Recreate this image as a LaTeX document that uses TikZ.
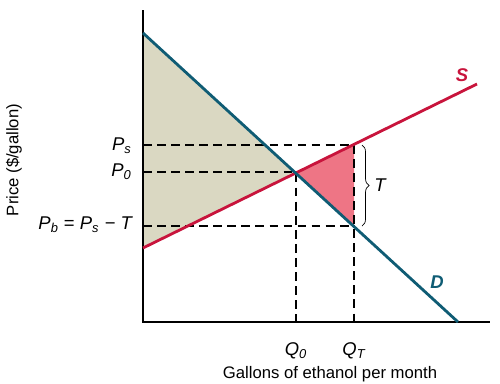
\documentclass[tikz,border=0pt]{standalone}
\usepackage{fontspec}
\setmainfont{Liberation Sans}
\usetikzlibrary{decorations.pathreplacing}
\definecolor{supred}{HTML}{C8143C}
\definecolor{demteal}{HTML}{0F5C74}
\definecolor{beige}{HTML}{DAD8C2}
\definecolor{dwlpink}{HTML}{EE7585}
\newcommand{\sublbl}[2]{{\itshape #1}\textsubscript{\itshape #2}}

\begin{document}
\begin{tikzpicture}[x=.02cm,y=-.02cm,font=\fontsize{10.5}{12}\selectfont]
  \useasboundingbox (0,0) rectangle (500,383);
  % points
  \coordinate (dtop) at (143,33);
  \coordinate (dend) at (458,322);
  \coordinate (sbot) at (143,248);
  \coordinate (send) at (477,84);
  \coordinate (eq) at (296,172);
  \coordinate (sT) at (354,145);
  \coordinate (dT) at (354,226);
  \coordinate (orig) at (143,322);
  \coordinate (ytop) at (143,10);
  \coordinate (xend) at (490,322);
  % shaded areas
  \fill[beige] (dtop) -- (eq) -- (sbot) -- cycle;
  \fill[dwlpink] (eq) -- (sT) -- (dT) -- cycle;
  % dashed guides
  \draw[line width=.8pt,dash pattern=on 5pt off 3pt] (143,145) -- (sT) -- (354,322);
  \draw[line width=.8pt,dash pattern=on 5pt off 3pt] (143,172) -- (eq) -- (296,322);
  \draw[line width=.8pt,dash pattern=on 5pt off 3pt] (143,226) -- (dT);
  % axes
  \draw[line width=.9pt] (ytop) -- (orig) -- (xend);
  % curves
  \draw[supred,line width=1.6pt] (sbot) -- (send);
  \draw[demteal,line width=1.6pt] (dtop) -- (dend);
  \draw[decorate,decoration={brace,amplitude=4pt},line width=.4pt] (362,145) -- (362,226);
  % labels
  \node[anchor=east] (ps) at (138,146) {\sublbl{P}{s}};
  \node[anchor=east] (p0) at (138,172) {\sublbl{P}{0}};
  \node[anchor=east] (pb) at (138,225) {\sublbl{P}{b} = \sublbl{P}{s} {\itshape − T}};
  \node (q0) at (296,351) {\sublbl{Q}{0}};
  \node (qT) at (354,351) {\sublbl{Q}{T}};
  \node (tlab) at (380,185) {\itshape T};
  \node[supred,font=\fontsize{10.5}{12}\selectfont\bfseries\itshape] (slab) at (462,75) {S};
  \node[demteal,font=\fontsize{10.5}{12}\selectfont\bfseries\itshape] (dlab) at (437,282) {D};
  \node[font=\fontsize{9.5}{11}\selectfont] (xlab) at (330,374) {Gallons of ethanol per month};
  \node[rotate=90,font=\fontsize{9.5}{11}\selectfont] (ylab) at (14,160) {Price (\$/gallon)};
\end{tikzpicture}
\end{document}
